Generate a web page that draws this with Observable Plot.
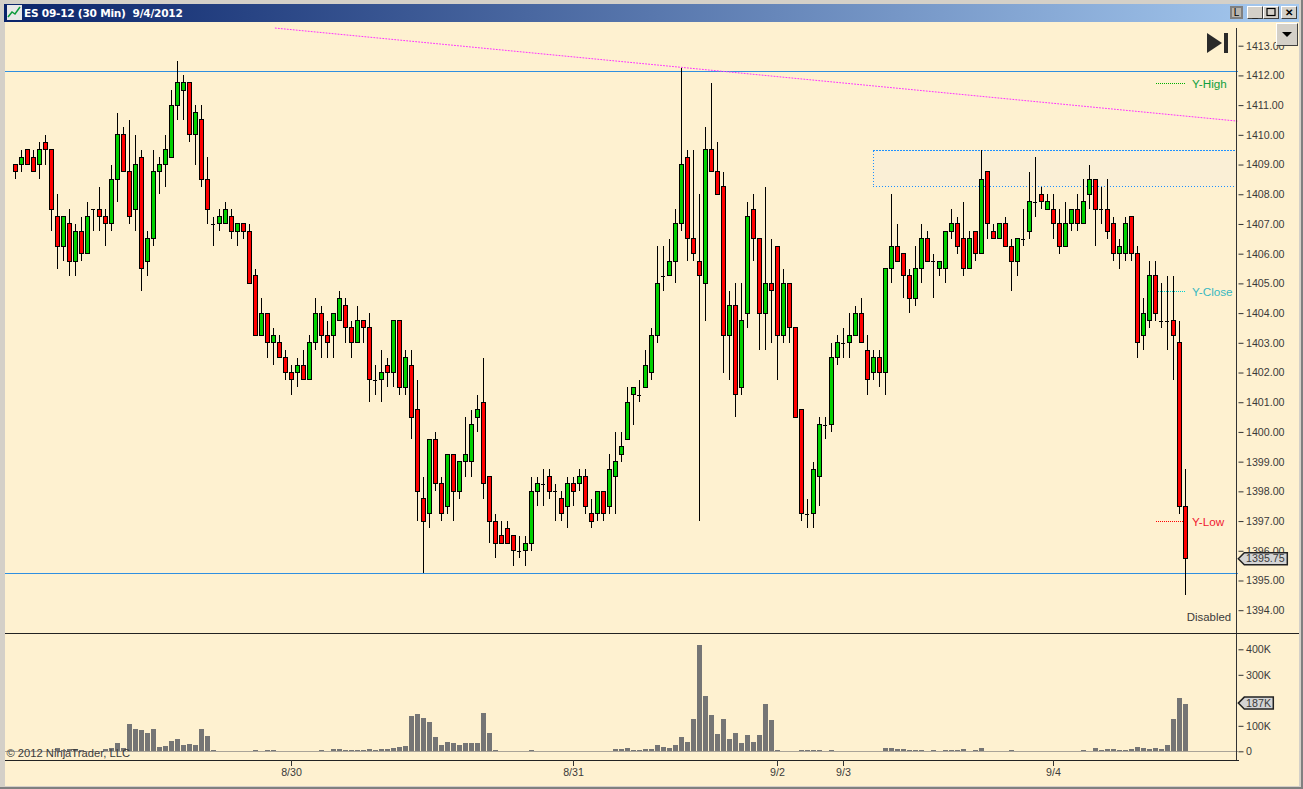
<!DOCTYPE html>
<html><head><meta charset="utf-8">
<script src="https://cdn.jsdelivr.net/npm/d3@7"></script>
<script src="https://cdn.jsdelivr.net/npm/@observablehq/plot@0.6"></script>
<style>
html,body{margin:0;padding:0;background:#d4d0c8;overflow:hidden}
#win{position:relative;width:1303px;height:789px;background:#d4d0c8;overflow:hidden;font-family:"Liberation Sans",Arial,sans-serif}
#edge{position:absolute;left:1301px;top:0;width:2px;height:789px;background:#808080}
#edgeb{position:absolute;left:0;top:787px;width:1303px;height:2px;background:#808080}
#title{position:absolute;left:4px;top:4px;width:1295px;height:18px;background:linear-gradient(90deg,#0a246a,#a6caf0)}
#title span{position:absolute;left:20px;top:2px;color:#fff;font:bold 10.6px/14px "DejaVu Sans",sans-serif;letter-spacing:-0.25px;white-space:pre}
#panel{position:absolute;left:5px;top:22px;width:1294px;height:764px;background:#fef1d0}
.pl{position:absolute;left:0;overflow:visible}
.btn{position:absolute;top:6px;height:13px;background:#d4d0c8;border:1px solid;border-color:#fff #404040 #404040 #fff;box-sizing:border-box;color:#000;font:bold 10px/11px "Liberation Sans",sans-serif;text-align:center}
#drop{position:absolute;left:1276px;top:23px;width:22px;height:23px;background:#d4d0c8;border:1px solid;border-color:#fff #404040 #404040 #fff;box-sizing:border-box}
svg{display:block}
</style></head><body>
<div id="win">
<div id="edge"></div><div id="edgeb"></div>
<div id="title"><svg width="15" height="15" style="position:absolute;left:3px;top:1px"><rect width="15" height="15" fill="#e8e8e8"/><path d="M1 12L5 7L8 9L13 2" stroke="#0a9a3a" fill="none" stroke-width="1.5"/></svg><span>ES 09-12 (30 Min)  9/4/2012</span></div>
<div id="panel"></div>
<div id="chart"></div>
<div class="btn" style="left:1230px;width:13px;background:#b8b4ac;border:2px solid #808080;line-height:9px;font-weight:normal">L</div>
<div class="btn" style="left:1247px;width:16px;line-height:13px">_</div>
<div class="btn" style="left:1263px;width:16px"><svg width="14" height="11"><rect x="3" y="1.5" width="8" height="7" fill="none" stroke="#000" stroke-width="1.2"/></svg></div>
<div class="btn" style="left:1281px;width:16px;line-height:11px">✕</div>
<div id="drop"><svg width="20" height="21"><path d="M5 8H15L10 13Z" fill="#000"/></svg></div>
<svg style="position:absolute;left:1205px;top:31px" width="26" height="24"><path d="M2 2L17 12L2 22Z" fill="#2a2a2a"/><rect x="19" y="2" width="4" height="20" fill="#2a2a2a"/></svg>
</div>
<script>
const opens=[1409,1409,1409.5,1409.25,1409,1409.75,1409.5,1407.25,1406.25,1407,
1405.75,1406.75,1406,1407.5,1407.5,1407.25,1407,1408.5,1410,1408.75,
1407.5,1409.25,1405.75,1406.5,1408.75,1409,1409.25,1411,1411.5,1411.75,
1410,1410.5,1408.5,1407,1407,1407,1407.25,1406.75,1407,1406.75,
1405.25,1403.25,1404,1403,1403,1402.5,1402,1402,1402.25,1401.75,
1403,1404,1403.25,1403.25,1403.75,1404.25,1403.5,1403,1403.75,1403.5,
1401.75,1401.75,1402.25,1402,1403.75,1401.5,1402.25,1400.75,1397.75,1397.25,
1399.75,1398.25,1397.5,1399.25,1398,1399,1399,1400.5,1401,1398.5,
1397,1396.5,1396.75,1396.5,1396,1396,1396.25,1398,1398.25,1398.5,
1398,1397.75,1397.5,1398.25,1398.25,1398.5,1397.25,1397.25,1398,1397.5,
1398.5,1399.25,1399.75,1401.25,1401.25,1401.5,1402,1403.25,1405.25,1405.25,
1405.75,1407,1409.25,1406.5,1405.75,1405,1409.5,1408.75,1408.25,1403.25,
1404.25,1401.5,1404,1407.5,1406.5,1404,1405,1406.25,1403.25,1405,
1403.5,1400.75,1397.25,1397.25,1398.5,1400.25,1400.25,1402.5,1403,1403,
1403.25,1404,1402.75,1402,1402.5,1402,1405.5,1406.25,1406,1405.25,
1404.5,1405.5,1406.5,1405.75,1405.5,1405.5,1406.75,1407,1406.5,1405.5,
1406.75,1406,1408.75,1406.75,1406.5,1407,1406.25,1405.75,1406.5,1406.75,
1407.75,1408,1407.5,1407.5,1407,1406.25,1407,1407.5,1407,1408,
1408.5,1407.5,1407.5,1407,1406,1406,1407.25,1406,1403.25,1403.75,
1405.25,1403.75,1403.75,1403.75,1403,1397.5];
const closes=[1408.75,1409.25,1409,1408.75,1409.5,1409.5,1407.5,1406.25,1407.25,1405.75,
1406.75,1406,1407.25,1407.5,1407.25,1407,1408.5,1410,1408.75,1407.25,
1409,1405.5,1406.5,1408.75,1409,1409.5,1411,1411.75,1411.75,1410,
1410.75,1408.5,1407.5,1407,1407.25,1407.5,1406.75,1407,1406.75,1405,
1403.25,1404,1403,1403.25,1402.5,1402,1401.75,1402.25,1401.75,1403,
1404,1403.25,1403,1404,1404.5,1403.5,1403,1403.75,1403.5,1401.75,
1401.75,1402,1402,1403.75,1401.5,1402.5,1400.5,1398,1397,1399.75,
1398.25,1397.25,1399.25,1398,1399,1399.25,1400.25,1400.75,1398.25,1397,
1396.25,1396.25,1396.25,1396,1396,1396.25,1398,1398.25,1398.25,1398,
1398,1397.25,1398.25,1398,1398.5,1397.5,1397,1398,1397.25,1398.75,
1399,1399.5,1401,1401.5,1401.25,1402.25,1403.25,1405,1405.25,1405.75,
1407,1409,1406.5,1406,1405.25,1409.5,1408.75,1408,1403.25,1404.25,
1401.25,1403.75,1407.25,1406.5,1404,1405,1404.75,1403.25,1405,1403.5,
1400.5,1397.25,1397.25,1398.75,1400.25,1400.25,1402.5,1403,1403,1403.25,
1404,1403,1401.75,1402.5,1402,1405.5,1406.25,1405.75,1405.25,1404.5,
1405.5,1406.5,1405.75,1405.75,1405.75,1406.75,1407,1406.25,1405.5,1406.5,
1406,1408.5,1407,1406.5,1407,1406.25,1405.75,1406.5,1406.5,1407.75,
1407.75,1407.75,1407.75,1407,1406.25,1407,1407.5,1407,1407.75,1408.5,
1407.5,1407.5,1406.75,1406,1406.25,1407,1406,1403,1404,1405.25,
1404,1403.75,1403.75,1403.25,1397.5,1395.75];
const highs=[1409,1409.5,1409.5,1409.5,1409.75,1410,1409.5,1408,1407.25,1407.5,
1407,1407.25,1407.75,1407.5,1408.25,1407.5,1409,1410.75,1410.25,1410.5,
1410,1409.5,1406.75,1409.5,1409.25,1410,1411.5,1412.5,1412,1411.75,
1411,1411,1409.25,1407.25,1407.5,1407.75,1407.5,1407,1407,1407,
1405.5,1404.5,1404,1403.5,1403.25,1402.75,1402.25,1402.5,1402.75,1403.25,
1404.5,1404.25,1403.75,1404,1404.75,1404.5,1403.75,1404.25,1403.75,1404,
1402.25,1402.75,1402.5,1403.75,1403.75,1402.75,1402.75,1401.75,1398.5,1399.75,
1400,1398.5,1399.25,1399.25,1399,1400.5,1400.75,1401.25,1402.5,1398.5,
1397.25,1397,1397,1396.5,1396.5,1396.5,1398.5,1398.5,1398.75,1398.75,
1398.25,1398,1398.5,1398.5,1398.75,1398.75,1397.75,1398,1398,1399.25,
1400,1400,1401.5,1401.5,1401.75,1402.75,1403.5,1406.25,1406.25,1406.5,
1407.5,1412.25,1409.5,1409.5,1408,1410.25,1411.75,1409.75,1408.75,1404.75,
1405,1405,1407.75,1408,1406.5,1408.25,1406.5,1406.25,1405.5,1405,
1403.5,1400.75,1397.75,1399,1400.5,1400.5,1403,1403.25,1403.5,1404,
1404.25,1404.5,1403.25,1402.75,1402.75,1405.5,1408,1407,1406,1405.5,
1406.25,1407,1406.75,1406,1405.75,1406.75,1407.5,1407.25,1407.75,1406.75,
1406.75,1409.5,1408.75,1407,1407,1407.25,1406.5,1406.5,1407.5,1408.75,
1409.25,1408.25,1408,1408,1407.5,1407.75,1407.5,1408,1408.5,1409,
1408.5,1408.25,1408.5,1407.25,1406.5,1407.25,1407.25,1406.25,1404.5,1405.75,
1405.75,1405,1405.25,1405.25,1403.75,1398.75];
const lows=[1408.5,1408.75,1409,1408.75,1408.5,1409,1406.75,1405.5,1405.75,1405.25,
1405.25,1405.75,1406,1406.75,1406.75,1406.25,1406.75,1407.75,1408.75,1407,
1406.75,1404.75,1405.25,1406.25,1408,1408.25,1409.25,1410.5,1410.5,1409.75,
1409,1408.25,1407,1406.25,1406.75,1407,1406.5,1406.25,1406.5,1405,
1403.25,1403.25,1402.5,1402.25,1402.5,1401.75,1401.25,1401.5,1401.75,1401.75,
1402.75,1402.5,1402.5,1402.5,1403.75,1403,1402.5,1403,1403,1401,
1401.25,1401,1401.5,1401.5,1401.25,1401.25,1399.75,1397,1395.25,1396.75,
1398,1397,1397.25,1397,1397.75,1398.5,1398.5,1400,1397.75,1396.25,
1395.75,1396.25,1396.25,1395.5,1395.75,1395.5,1396,1397.5,1397.5,1397.75,
1397,1397,1396.75,1397.5,1398,1397.25,1396.75,1397,1397,1397.25,
1397.25,1399,1399.75,1400.25,1401,1401.5,1401.75,1403,1404.75,1405.25,
1405,1406.75,1405.75,1405.75,1397,1403.75,1408.75,1408,1402,1401.75,
1400.5,1401.25,1403.5,1405.75,1402.75,1402.75,1403,1401.75,1403,1403,
1400.5,1397,1396.75,1396.75,1397.5,1399.75,1400,1402.25,1402.5,1402.5,
1403.25,1403,1401.25,1401.75,1401.5,1401.25,1405,1405.75,1404.5,1404,
1404.25,1405,1405.75,1404.5,1405.25,1405,1406.5,1406,1405.25,1405.5,
1405.75,1406,1406.5,1406.5,1406.5,1406.25,1404.75,1405.25,1406.25,1406.5,
1407.25,1407.5,1407.5,1406.5,1406,1406.25,1406.75,1406.75,1407,1407.5,
1406.25,1407,1406.5,1405.75,1405.5,1405.75,1405.75,1402.5,1402.75,1403.5,
1403.75,1403.5,1402.75,1401.75,1397.25,1394.5];
const volumesK=[0,0,0,0,0,0,0,13,5,9,
9,5,0,0,0,9,13,33,13,107,
88,84,72,88,17,21,41,48,25,29,
25,88,60,5,0,0,0,0,0,0,
5,0,5,5,0,0,0,0,0,0,
0,5,0,9,9,5,5,5,5,9,
5,9,9,13,17,21,139,146,131,115,
56,25,37,33,25,33,33,33,150,72,
5,0,0,0,0,0,5,0,0,0,
0,0,0,0,0,0,0,0,0,0,
9,9,13,5,5,9,9,25,17,13,
25,56,37,127,417,217,142,68,127,48,
72,33,64,37,64,186,123,5,0,0,
0,5,5,5,5,0,5,0,0,0,
0,0,0,0,0,13,13,9,9,5,
5,5,0,5,0,5,5,5,9,0,
5,13,0,0,0,0,5,0,0,0,
0,0,0,0,0,0,0,0,5,0,
13,5,9,9,5,5,9,17,13,9,
13,9,25,127,209,187];
const priceTicks=[1394,1395,1396,1397,1398,1399,1400,1401,1402,1403,1404,1405,1406,1407,1408,1409,1410,1411,1412,1413];
const volumeTicks=[0,100,300,400];
const dateTickIndex=[46,93,127,138,173];
const dateTickLabels=["8/30","8/31","9/2","9/3","9/4"];
const levelLines=[1412.15,1395.25];
const trendIndex=[43.3,203.58];
const trendPrice=[1413.61,1410.48];
const zone={i1:143,i2:203.58,p1:1408.25,p2:1409.47};
const yLevels=[["Y-High",1411.75,"#00b000","#10a040",190.1],["Y-Close",1404.75,"#00d0d0","#38b8c0",190.5],["Y-Low",1397,"#ff0000","#f01a30",190.1]];
const lastPrice=1395.75, lastVolume=187;

const FONT='"Liberation Sans",Arial,sans-serif';
const AXIS_X=203.58;
const xScale={domain:[0,195],range:[15,1185]};
const candles=opens.map((o,i)=>({i,o,c:closes[i],h:highs[i],l:lows[i],v:volumesK[i]}));
const tag=w=>({draw(ctx){ctx.moveTo(0,0);ctx.lineTo(6,-6);ctx.lineTo(w,-6);ctx.lineTo(w,6);ctx.lineTo(6,6);ctx.closePath();}});
const TXT="#3a3a3a";

const price=Plot.plot({
  width:1303,height:611,marginLeft:5,marginRight:65.5,marginTop:6,marginBottom:0,
  style:{background:"transparent",overflow:"visible",fontFamily:FONT,fontSize:"10.67px"},
  x:{...xScale,axis:null},
  y:{domain:[1394,1413],range:[588.2,23.7],axis:null},
  marks:[
    Plot.rect([zone],{x1:"i1",x2:"i2",y1:"p1",y2:"p2",fill:"#faefd6",stroke:"#1e90ff",strokeDasharray:"1.5,1.5",shapeRendering:"crispEdges"}),
    Plot.ruleY(levelLines,{stroke:"#2f8fe0",strokeWidth:1,shapeRendering:"crispEdges"}),
    Plot.line(trendIndex.map((x,k)=>({x,y:trendPrice[k]})),{x:"x",y:"y",stroke:"#ff30ff",strokeWidth:1,strokeDasharray:"1,2"}),
    Plot.ruleX(candles,{x:"i",y1:"l",y2:"h",stroke:"#000",strokeWidth:1,shapeRendering:"crispEdges"}),
    Plot.rect(candles.filter(d=>d.o!==d.c),{x1:d=>d.i-1/3,x2:d=>d.i+1/3,y1:"o",y2:"c",fill:d=>d.c>d.o?"#00d000":"#ff0000",stroke:"#000",strokeWidth:1,shapeRendering:"crispEdges"}),
    Plot.ruleY(candles.filter(d=>d.o===d.c),{y:"c",x1:d=>d.i-0.4,x2:d=>d.i+0.4,stroke:"#000",strokeWidth:1,shapeRendering:"crispEdges"}),
    Plot.ruleY(yLevels,{y:d=>d[1],x1:d=>d[4],x2:195,stroke:d=>d[2],strokeDasharray:"1,1",shapeRendering:"crispEdges"}),
    Plot.text(yLevels,{x:196.1,y:d=>d[1],text:d=>d[0],fill:d=>d[3],textAnchor:"start",fontSize:11.7,dy:0.5}),
    Plot.ruleX([AXIS_X],{stroke:"#333",shapeRendering:"crispEdges"}),
    Plot.axisY(priceTicks,{anchor:"right",tickSize:5,tickPadding:3,tickFormat:d=>d.toFixed(2),stroke:"#333",fill:TXT,fontSize:10.67,label:null}),
    Plot.dot([lastPrice],{x:203.8,y:d=>d,symbol:tag(49),r:1,fill:"#d4d4d4",stroke:"#222"}),
    Plot.text([lastPrice],{x:205.1,y:d=>d,text:d=>d.toFixed(2),fill:TXT,textAnchor:"start",fontSize:10.67}),
    Plot.text(["Disabled"],{x:202.6,y:1393.78,text:d=>d,fill:TXT,textAnchor:"end",fontSize:11.4})
  ]
});
price.classList.add("pl");price.style.top="22px";

const volume=Plot.plot({
  width:1303,height:153,marginLeft:5,marginRight:65.5,marginTop:0,marginBottom:26,
  style:{background:"transparent",overflow:"visible",fontFamily:FONT,fontSize:"10.67px"},
  x:{...xScale,axis:null},
  y:{domain:[0,400],range:[118.3,16.3],axis:null},
  marks:[
    Plot.ruleY([0],{stroke:"#aaa498",shapeRendering:"crispEdges"}),
    Plot.rect(candles.filter(d=>d.v>0),{x1:d=>d.i-5/12,x2:d=>d.i+5/12,y1:0,y2:"v",fill:"#757575",shapeRendering:"crispEdges"}),
    Plot.ruleX([AXIS_X],{stroke:"#333",shapeRendering:"crispEdges"}),
    Plot.axisY(volumeTicks,{anchor:"right",tickSize:5,tickPadding:3,tickFormat:d=>d?d+"K":"0",stroke:"#333",fill:TXT,fontSize:10.67,label:null}),
    Plot.frame({anchor:"bottom",stroke:"#222",shapeRendering:"crispEdges"}),
    Plot.axisX(dateTickIndex,{anchor:"bottom",tickSize:6,tickPadding:2,tickFormat:d=>dateTickLabels[dateTickIndex.indexOf(d)],stroke:"#333",fill:TXT,fontSize:10.67,label:null}),
    Plot.dot([lastVolume],{x:203.8,y:d=>d,symbol:tag(35),r:1,fill:"#d4d4d4",stroke:"#222",dy:-1}),
    Plot.text([lastVolume],{x:205.1,y:d=>d,text:d=>d+"K",fill:TXT,textAnchor:"start",fontSize:10.67,dy:-1}),
    Plot.text(["© 2012 NinjaTrader, LLC"],{x:-1.5,y:-5,text:d=>d,fill:TXT,textAnchor:"start",fontSize:11.2})
  ]
});
volume.classList.add("pl");volume.style.top="633px";

const chart=document.getElementById("chart");
chart.append(price,volume);
const sep=document.createElement("div");
sep.style.cssText="position:absolute;left:5px;top:633px;width:1294px;height:1px;background:#222";
chart.append(sep);
</script>
</body></html>
